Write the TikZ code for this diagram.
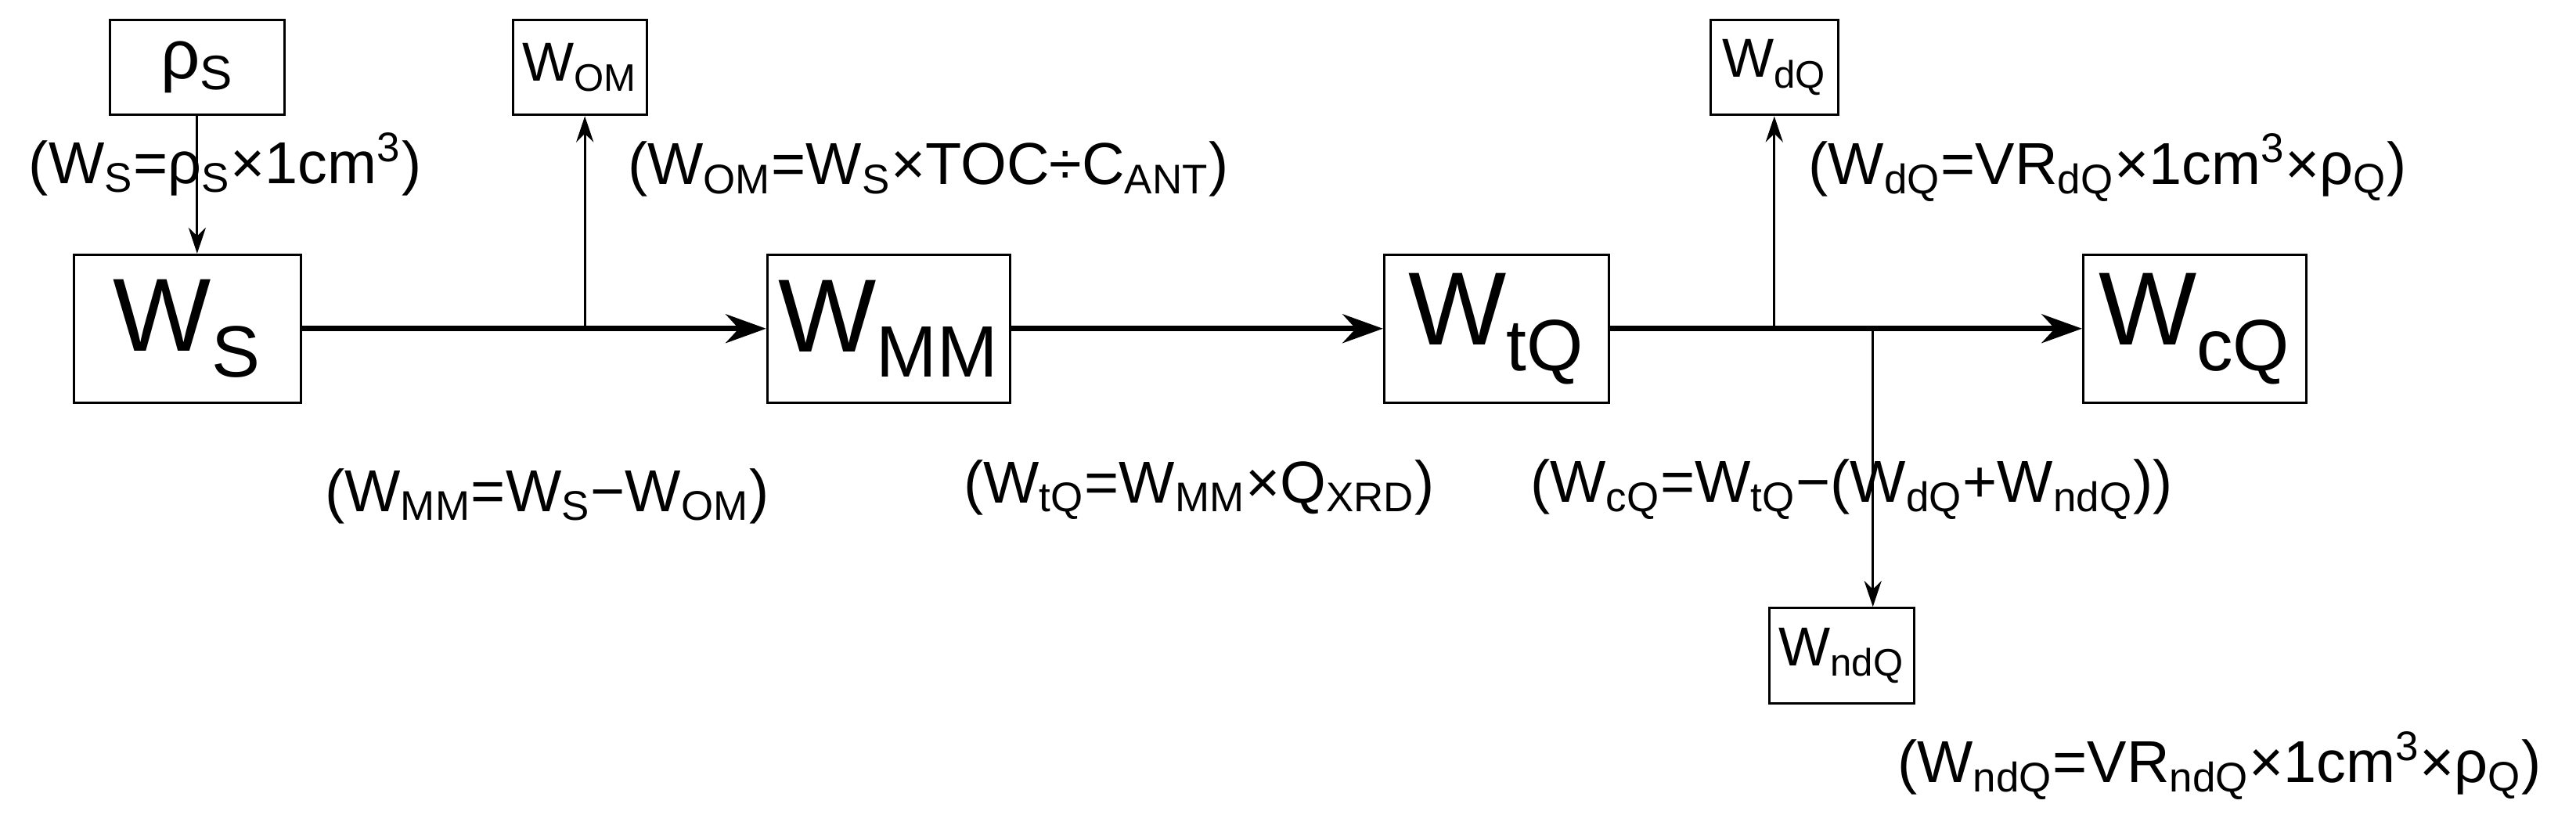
\documentclass[tikz,border=0pt]{standalone}
\usepackage{fontspec}
\setmainfont{Liberation Sans}
\usetikzlibrary{arrows.meta}
\begin{document}
\begin{tikzpicture}[x=0.02cm,y=-0.02cm,
    big/.style={draw, line width=0.8pt, minimum width=2.76cm, minimum height=1.8cm, font=\fontsize{36}{40}\selectfont},
    small/.style={draw, line width=0.8pt, minimum width=1.55cm, minimum height=1.16cm, font=\fontsize{19}{22}\selectfont},
    lbl/.style={font=\fontsize{20.5}{22}\selectfont, inner sep=1pt},
    main/.style={line width=1.8pt, -{Stealth[length=14pt,width=10pt]}},
    thin/.style={line width=0.8pt, -{Stealth[length=9pt,width=6pt]}}]
    % Rahmen
    \useasboundingbox (0,0) rectangle (1568,500);

    % Hauptkette
    \node[big] (ws) at (114,200) {W\textsubscript{S}};
    \node[big, minimum width=2.96cm] (wmm) at (541,200) {W\textsubscript{MM}};
    \node[big, minimum width=2.74cm] (wtq) at (911,200) {W\textsubscript{tQ}};
    \node[big, minimum width=2.72cm] (wcq) at (1336,200) {W\textsubscript{cQ}};

    % Nebenkaesten
    \node[small, minimum width=2.12cm, font=\fontsize{24}{26}\selectfont] (rhos) at (120,41) {ρ\textsubscript{S}};
    \node[small] (wom) at (353,41) {W\textsubscript{OM}};
    \node[small] (wdq) at (1080,41) {W\textsubscript{dQ}};
    \node[small] (wndq) at (1121,399) {W\textsubscript{ndQ}};

    % Verzweigungen
    \coordinate (bom) at (356,200);
    \coordinate (bdq) at (1080,200);
    \coordinate (bndq) at (1140,200);

    % Pfeile
    \draw[main] (ws) -- (wmm);
    \draw[main] (wmm) -- (wtq);
    \draw[main] (wtq) -- (wcq);
    \draw[thin] (rhos.south) -- (ws.north -| rhos.south);
    \draw[thin] (bom) -- (bom |- wom.south);
    \draw[thin] (bdq) -- (wdq.south);
    \draw[thin] (bndq) -- (bndq |- wndq.north);

    % Formeln
    \node[lbl] (fws) at (137,100) {(W\textsubscript{S}=ρ\textsubscript{S}×1cm\textsuperscript{3})};
    \node[lbl] (fwom) at (565,103) {(W\textsubscript{OM}=W\textsubscript{S}×TOC÷C\textsubscript{ANT})};
    \node[lbl] (fwmm) at (333,302) {(W\textsubscript{MM}=W\textsubscript{S}−W\textsubscript{OM})};
    \node[lbl] (fwtq) at (730,298) {(W\textsubscript{tQ}=W\textsubscript{MM}×Q\textsubscript{XRD})};
    \node[lbl] (fwcq) at (1127,298) {(W\textsubscript{cQ}=W\textsubscript{tQ}−(W\textsubscript{dQ}+W\textsubscript{ndQ}))};
    \node[lbl] (fwdq) at (1283,102) {(W\textsubscript{dQ}=VR\textsubscript{dQ}×1cm\textsuperscript{3}×ρ\textsubscript{Q})};
    \node[lbl] (fwndq) at (1351,466) {(W\textsubscript{ndQ}=VR\textsubscript{ndQ}×1cm\textsuperscript{3}×ρ\textsubscript{Q})};
\end{tikzpicture}
\end{document}
